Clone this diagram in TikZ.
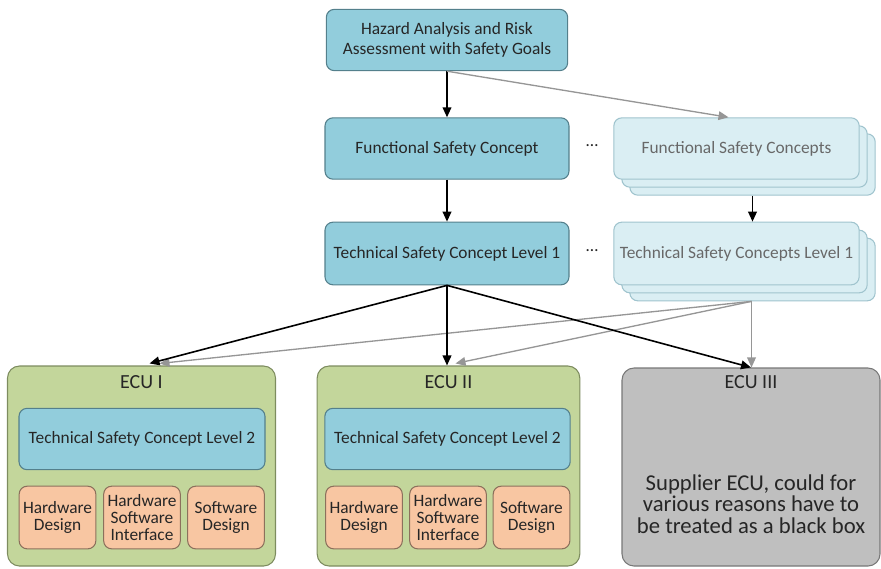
\documentclass[tikz,border=0pt]{standalone}
\usepackage{fontspec}
\setmainfont{Carlito}
\usetikzlibrary{arrows.meta,shadows,positioning}
\definecolor{conceptblue}{RGB}{146,205,220}
\definecolor{conceptbluedark}{RGB}{84,128,140}
\definecolor{paleblue}{RGB}{218,238,243}
\definecolor{palebluedark}{RGB}{160,196,206}
\definecolor{ecugreen}{RGB}{195,214,155}
\definecolor{ecugreendark}{RGB}{125,140,95}
\definecolor{designorange}{RGB}{248,198,162}
\definecolor{designorangedark}{RGB}{140,112,92}
\definecolor{boxgrey}{RGB}{191,191,191}
\definecolor{boxgreydark}{RGB}{120,120,120}
\definecolor{textdark}{RGB}{38,38,38}
\definecolor{textgrey}{RGB}{104,104,104}
\definecolor{arrgrey}{RGB}{150,150,150}

\begin{document}
\begin{tikzpicture}[x=0.75pt, y=-0.75pt,
    conceptbox/.style={rectangle, draw=conceptbluedark, rounded corners=6pt, fill=conceptblue,
                 minimum width=183pt, minimum height=46pt, align=center, text=textdark,
                 font=\fontsize{13}{15}\selectfont, line width=0.8pt, inner sep=2pt},
    stackbox/.style={conceptbox, draw=palebluedark, fill=paleblue, text=textgrey, minimum width=184pt,
                 double copy shadow={shadow xshift=6pt, shadow yshift=-6pt, fill=paleblue, draw=palebluedark}},
    ecubox/.style={rectangle, draw=ecugreendark, rounded corners=9pt, fill=ecugreen,
                 minimum width=199pt, minimum height=150pt, line width=0.8pt},
    designbox/.style={rectangle, draw=designorangedark, rounded corners=6pt, fill=designorange,
                 minimum width=57.5pt, minimum height=47pt, align=center, text=textdark,
                 font=\fontsize{13}{12.75}\selectfont, line width=0.8pt, inner sep=1pt},
    ecutitle/.style={font=\fontsize{15}{18}\selectfont, text=textdark},
    arr/.style={-{Triangle[length=7.5pt,width=6.5pt]}, line width=1.2pt, black},
    arrlight/.style={-{Triangle[length=7.5pt,width=6.5pt]}, line width=1pt, arrgrey}
]
\useasboundingbox (0,0) rectangle (881,568);

% concept chain
\node[conceptbox, minimum width=181pt] (hara) at (447,40) {Hazard Analysis and Risk\\Assessment with Safety Goals};
\node[conceptbox] (fsc) at (447,148.5) {Functional Safety Concept};
\node[conceptbox, minimum height=47pt] (tsc) at (447,253.5) {Technical Safety Concept Level 1};

\node[stackbox] (fscs) at (736.5,148.5) {Functional Safety Concepts};
\node[stackbox, minimum height=47pt] (tscs) at (736.5,253.5) {Technical Safety Concepts Level 1};
\node[text=textdark, font=\fontsize{13}{15}\selectfont] (dots1) at (592,146) {\dots};
\node[text=textdark, font=\fontsize{13}{15}\selectfont] (dots2) at (592,251) {\dots};

% ECUs
\node[ecubox, minimum width=201pt] (ecu1) at (141.5,466) {};
\node[ecubox, minimum width=197pt] (ecu2) at (448.5,466) {};
\node[ecubox, draw=boxgreydark, fill=boxgrey, minimum width=193.5pt, minimum height=148.5pt] (ecu3) at (751,467) {};

\node[ecutitle] (ecu1lbl) at (141.5,382) {ECU I};
\node[ecutitle] (ecu2lbl) at (448.5,382) {ECU II};
\node[ecutitle] (ecu3lbl) at (751,382) {ECU III};

\node[conceptbox, minimum width=184.5pt] (tsca) at (142,439) {Technical Safety Concept Level 2};
\node[designbox] (hwa) at (57.5,517.5) {Hardware\\Design};
\node[designbox] (hsia) at (142,517.5) {Hardware\\Software\\Interface};
\node[designbox] (swa) at (226,517.5) {Software\\Design};

\node[conceptbox, minimum width=184pt] (tscb) at (447.5,439) {Technical Safety Concept Level 2};
\node[designbox] (hwb) at (364,517.5) {Hardware\\Design};
\node[designbox] (hsib) at (448,517.5) {Hardware\\Software\\Interface};
\node[designbox] (swb) at (531.5,517.5) {Software\\Design};

\node[align=center, text=textdark, font=\fontsize{17}{16.3}\selectfont] (supplier) at (751,504)
  {Supplier ECU, could for\\various reasons have to\\be treated as a black box};

% connectors
\coordinate (fscsbot) at ([shift={(16,16)}]fscs.south);
\coordinate (tscsbot) at ([shift={(15,16)}]tscs.south);

\draw[arr] (hara) -- (fsc);
\draw[arrlight] (hara.south) -- ([xshift=-6pt]fscs.north);
\draw[arr] (fsc) -- (tsc);
\draw[arr] (fscsbot) -- (fscsbot |- tscs.north);

\draw[arrlight] (tscsbot) -- ([shift={(18,-2)}]ecu1.north);
\draw[arrlight] (tscsbot) -- ([shift={(7,-2)}]ecu2.north);
\draw[arrlight] (tscsbot) -- (tscsbot |- ecu3.north);

\draw[arr] (tsc.south) -- ([shift={(8,-2)}]ecu1.north);
\draw[arr] (tsc.south) -- (tsc.south |- ecu2.north);
\draw[arr] (tsc.south) -- (ecu3.north);
\end{tikzpicture}
\end{document}
